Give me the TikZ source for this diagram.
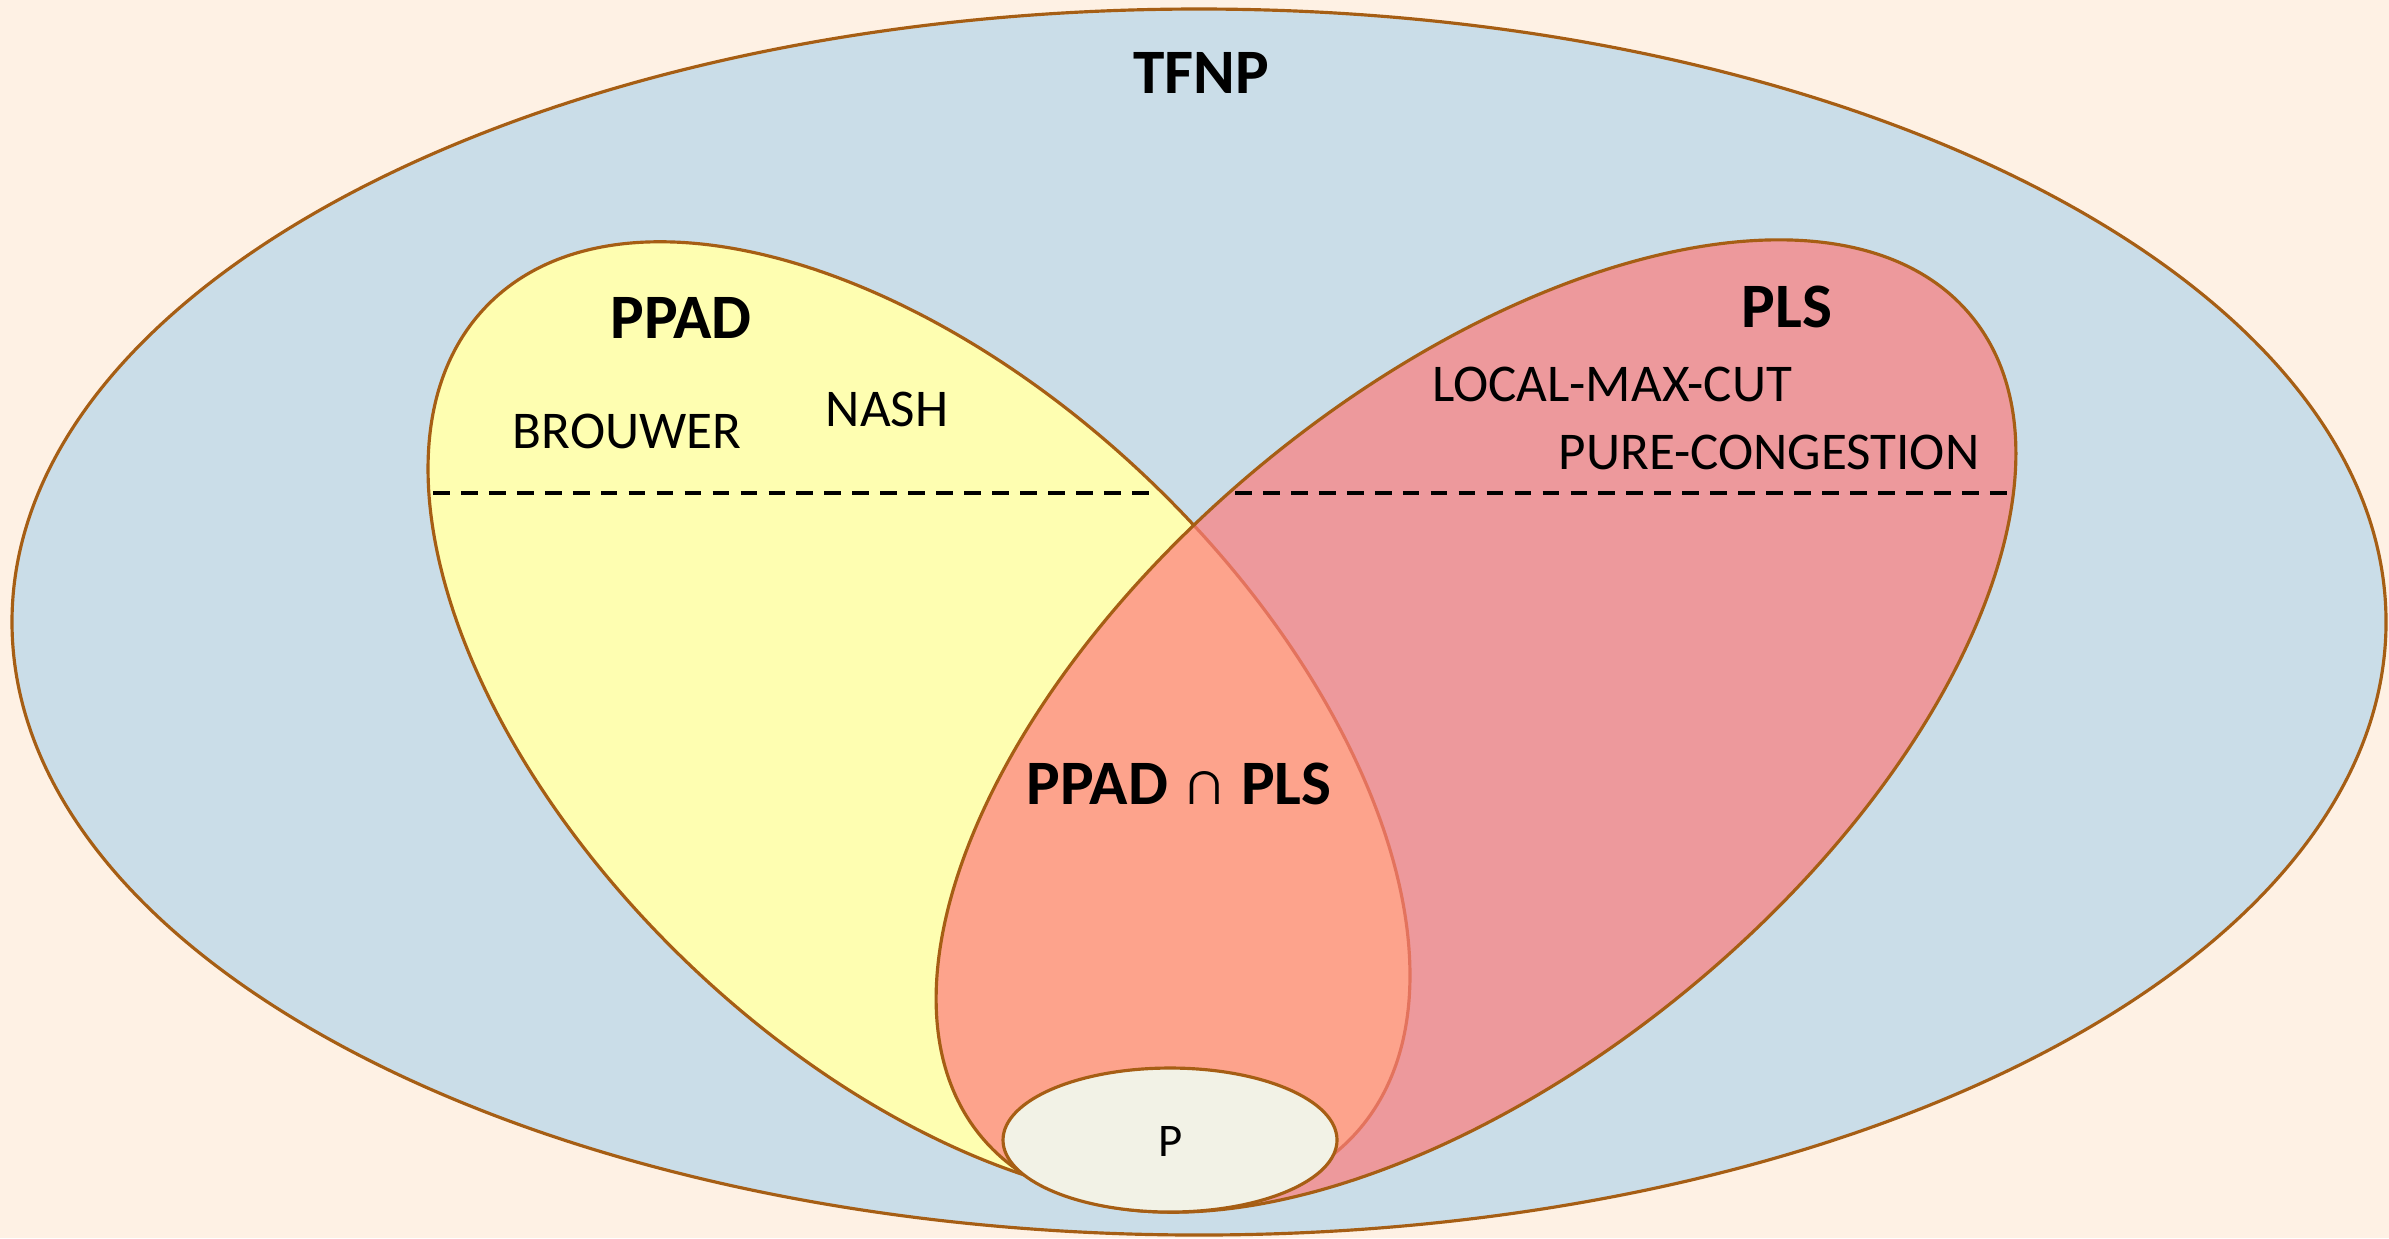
\documentclass[tikz,border=0pt]{standalone}
\usepackage{fontspec}
\setmainfont{Carlito}
\definecolor{bgpeach}{RGB}{254,241,228}
\definecolor{tfnpblue}{RGB}{202,221,232}
\definecolor{ppadyellow}{RGB}{254,254,177}
\definecolor{plsred}{RGB}{253,125,125}
\definecolor{pfill}{RGB}{242,242,230}
\definecolor{brownline}{RGB}{166,94,20}
\begin{document}
\begin{tikzpicture}[x=0.01cm,y=-0.01cm,
  setline/.style={draw=brownline,line width=0.9pt},
  cutline/.style={draw=black,line width=1.1pt,dash pattern=on 4.75pt off 3.2pt},
  classname/.style={font=\fontsize{18}{20}\selectfont\bfseries,inner sep=0pt},
  problem/.style={font=\fontsize{15.1}{17}\selectfont,inner sep=0pt}]
\fill[bgpeach] (0,0) rectangle (2389,1238);
\useasboundingbox (0,0) rectangle (2389,1238);
\filldraw[setline,fill=tfnpblue] (1199,622) ellipse [x radius=1187, y radius=613];
\filldraw[setline,fill=ppadyellow,rotate around={-43.8:(919,722)}] (919,722) ellipse [x radius=600, y radius=334];
\filldraw[setline,fill=plsred,fill opacity=0.7,rotate around={39.7:(1476,726)}] (1476,726) ellipse [x radius=643, y radius=338];
\filldraw[setline,fill=pfill] (1170,1140) ellipse [x radius=167, y radius=72];
\coordinate (ppadcutL) at (433,493);
\coordinate (ppadcutR) at (1152,493);
\coordinate (plscutL) at (1235,493);
\coordinate (plscutR) at (2008,493);
\draw[cutline] (ppadcutL) -- (ppadcutR);
\draw[cutline] (plscutL) -- (plscutR);
\node[classname] (tfnp) at (1201,73) {TFNP};
\node[classname] (ppad) at (681,318) {PPAD};
\node[classname] (pls) at (1787,307) {PLS};
\node[classname] (inter) at (1179,784) {PPAD {\mdseries ∩} PLS};
\node[problem] (brouwer) at (627,431) {BROUWER};
\node[problem] (nash) at (887,409) {NASH};
\node[problem] (lmc) at (1612,384) {LOCAL-MAX-CUT};
\node[problem] (pc) at (1769,452) {PURE-CONGESTION};
\node[font=\fontsize{13.3}{15}\selectfont,inner sep=0pt] (p) at (1171,1141) {P};
\end{tikzpicture}
\end{document}
